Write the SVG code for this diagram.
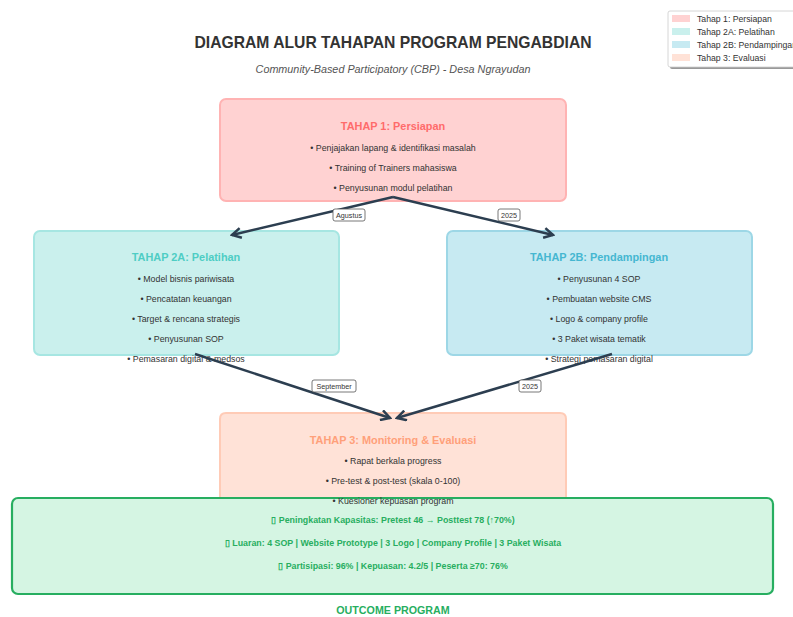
<svg xmlns="http://www.w3.org/2000/svg" width="793" height="617" viewBox="0 0 793 617">
<style>
text{font-family:"Liberation Sans",Arial,sans-serif;text-anchor:middle;}
.title{font-size:15.7px;font-weight:bold;fill:#333;}
.sub{font-size:10.8px;font-style:italic;fill:#555;}
.bt{font-size:10.9px;font-weight:bold;}
.ln{font-size:8.8px;fill:#333;}
.oc{font-size:8.85px;font-weight:bold;fill:#27ae60;}
.lab{font-size:7.2px;fill:#333;}
.lg{font-size:8.7px;fill:#333;text-anchor:start;}
.conn{stroke:#2c3e50;stroke-width:2.5;fill:none;}
.labbox{fill:#fff;stroke:#555;stroke-width:0.8;}
</style>
<defs>
<marker id="ah" markerWidth="12" markerHeight="12" refX="10" refY="6" orient="auto" markerUnits="userSpaceOnUse">
<path d="M1,1 L10,6 L1,11" fill="none" stroke="#2c3e50" stroke-width="2.5" stroke-linejoin="miter"/>
</marker>
</defs>
<rect width="793" height="617" fill="#fff"/>
<text class="title" x="393" y="48">DIAGRAM ALUR TAHAPAN PROGRAM PENGABDIAN</text>
<text class="sub" x="393" y="73">Community-Based Participatory (CBP) - Desa Ngrayudan</text>

<g id="legend">
<rect x="670" y="13" width="128" height="56" rx="2" fill="#999"/>
<rect x="668" y="11" width="128" height="56" rx="2" fill="#fff" stroke="#ccc" stroke-width="0.8"/>
<rect x="672" y="15" width="18" height="7" fill="#ffd2d2"/>
<text class="lg" x="697" y="22">Tahap 1: Persiapan</text>
<rect x="672" y="28" width="18" height="7" fill="#caf0ed"/>
<text class="lg" x="697" y="35">Tahap 2A: Pelatihan</text>
<rect x="672" y="41" width="18" height="7" fill="#c7eaf2"/>
<text class="lg" x="697" y="48">Tahap 2B: Pendampingan</text>
<rect x="672" y="54" width="18" height="7" fill="#ffe2d7"/>
<text class="lg" x="697" y="61">Tahap 3: Evaluasi</text>
</g>

<g id="tahap1">
<rect x="220" y="99" width="346" height="102" rx="6" fill="#ffd2d2" stroke="#ffb3b3" stroke-width="2"/>
<text class="bt" x="393" y="130" fill="#ff6b6b">TAHAP 1: Persiapan</text>
<text class="ln" x="393" y="151">• Penjajakan lapang &amp; identifikasi masalah</text>
<text class="ln" x="393" y="171">• Training of Trainers mahasiswa</text>
<text class="ln" x="393" y="191">• Penyusunan modul pelatihan</text>
</g>

<g id="tahap2a">
<rect x="34" y="231" width="305" height="124" rx="6" fill="#caf0ed" stroke="#a6e6e2" stroke-width="2"/>
<text class="bt" x="186" y="261" fill="#4ecdc4">TAHAP 2A: Pelatihan</text>
<text class="ln" x="186" y="282">• Model bisnis pariwisata</text>
<text class="ln" x="186" y="302">• Pencatatan keuangan</text>
<text class="ln" x="186" y="322">• Target &amp; rencana strategis</text>
<text class="ln" x="186" y="342">• Penyusunan SOP</text>
<text class="ln" x="186" y="362">• Pemasaran digital &amp; medsos</text>
</g>

<g id="tahap2b">
<rect x="447" y="231" width="305" height="124" rx="6" fill="#c7eaf2" stroke="#9dd7e6" stroke-width="2"/>
<text class="bt" x="599" y="261" fill="#45b7d1">TAHAP 2B: Pendampingan</text>
<text class="ln" x="599" y="282">• Penyusunan 4 SOP</text>
<text class="ln" x="599" y="302">• Pembuatan website CMS</text>
<text class="ln" x="599" y="322">• Logo &amp; company profile</text>
<text class="ln" x="599" y="342">• 3 Paket wisata tematik</text>
<text class="ln" x="599" y="362">• Strategi pemasaran digital</text>
</g>

<g id="outcome">
<rect x="12" y="498" width="761" height="96" rx="6" fill="#d5f5e3" stroke="#27ae60" stroke-width="2.2"/>
<text class="oc" x="393" y="523">▯ Peningkatan Kapasitas: Pretest 46 → Posttest 78 (↑70%)</text>
<text class="oc" x="393" y="546">▯ Luaran: 4 SOP | Website Prototype | 3 Logo | Company Profile | 3 Paket Wisata</text>
<text class="oc" x="393" y="569">▯ Partisipasi: 96% | Kepuasan: 4.2/5 | Peserta ≥70: 76%</text>
<text class="oc" x="393" y="614" style="font-size:10.7px">OUTCOME PROGRAM</text>
</g>

<g id="tahap3">
<path d="M220,497 V419 Q220,413 226,413 H560 Q566,413 566,419 V497 Z" fill="#ffe2d7" stroke="none"/>
<path d="M220,497 V419 Q220,413 226,413 H560 Q566,413 566,419 V497" fill="none" stroke="#ffcbb6" stroke-width="2"/>
<text class="bt" x="393" y="444" fill="#ffa07a">TAHAP 3: Monitoring &amp; Evaluasi</text>
<text class="ln" x="393" y="464">• Rapat berkala progress</text>
<text class="ln" x="393" y="484">• Pre-test &amp; post-test (skala 0-100)</text>
<text class="ln" x="393" y="504">• Kuesioner kepuasan program</text>
</g>

<g id="connectors">
<line class="conn" x1="393" y1="197" x2="232" y2="235" marker-end="url(#ah)"/>
<line class="conn" x1="393" y1="197" x2="553" y2="235" marker-end="url(#ah)"/>
<line class="conn" x1="195" y1="354" x2="390" y2="418" marker-end="url(#ah)"/>
<line class="conn" x1="612" y1="354" x2="397" y2="418" marker-end="url(#ah)"/>
<rect class="labbox" x="333" y="209" width="32" height="12" rx="2"/>
<text class="lab" x="349" y="218">Agustus</text>
<rect class="labbox" x="498" y="209" width="22" height="12" rx="2"/>
<text class="lab" x="509" y="218">2025</text>
<rect class="labbox" x="312" y="380" width="44" height="12" rx="2"/>
<text class="lab" x="334" y="389">September</text>
<rect class="labbox" x="519" y="380" width="22" height="12" rx="2"/>
<text class="lab" x="530" y="389">2025</text>
</g>
</svg>
